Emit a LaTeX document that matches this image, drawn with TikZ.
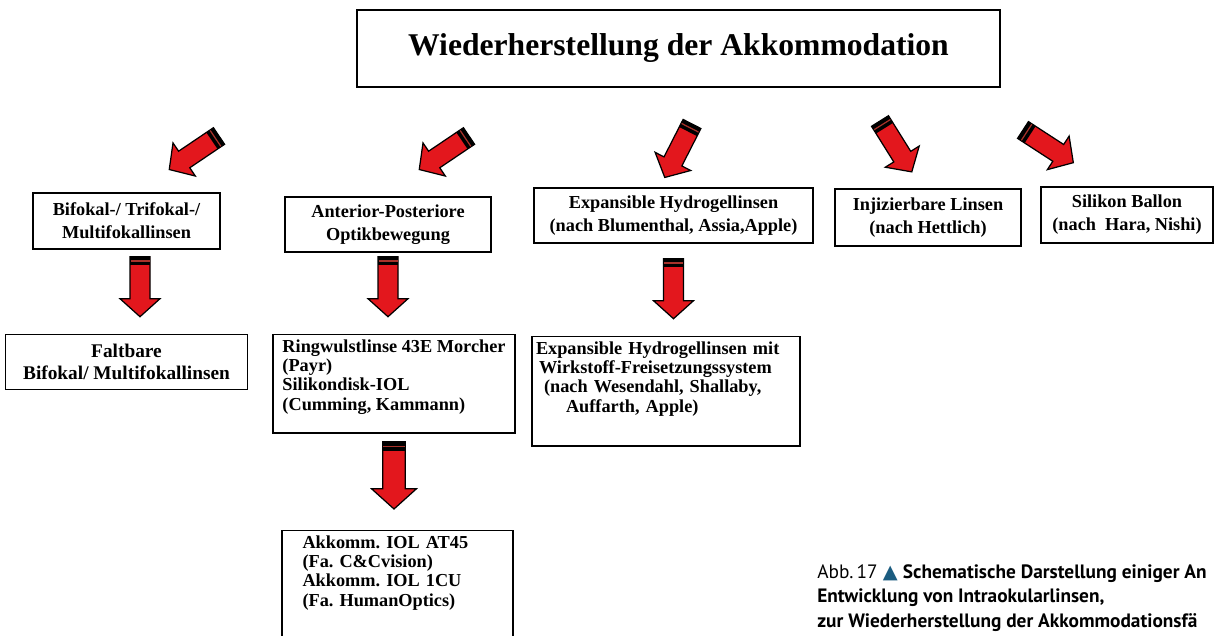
\documentclass[tikz,border=0pt]{standalone}
\usepackage{fontspec}
\setmainfont{Liberation Serif}
\newfontfamily\capfont{PT Sans}
\newfontfamily\symfont{DejaVu Sans}
\usetikzlibrary{positioning, calc}
\definecolor{arrowred}{HTML}{E3171D}
\definecolor{bandred}{HTML}{A8322B}
\definecolor{capblue}{HTML}{1B5C80}
\frenchspacing

\begin{document}
\begin{tikzpicture}[
    % Styles
    entry/.style={draw=black, line width=0.8pt, align=center, inner sep=2pt, font=\fontsize{10.4}{13}\selectfont\bfseries},
    lowentry/.style={entry, inner ysep=0.1cm, font=\fontsize{10.4}{11}\selectfont\bfseries},
    caption/.style={font=\capfont\fontsize{11}{14}\selectfont, align=left, inner sep=0pt, anchor=north west},
    redarrow/.pic={
        \filldraw[fill=arrowred, draw=black, line width=0.7pt]
            (0,-0.2) -- (0.84,-0.2) -- (0.84,-0.4) -- (1.2,0) -- (0.84,0.4) -- (0.84,0.2) -- (0,0.2) -- cycle;
        \fill[black] (0,-0.2) rectangle (0.17,0.2);
        \draw[bandred, line width=0.7pt] (0.085,-0.19) -- (0.085,0.19);
    },
]

% Page frame
\path[use as bounding box, clip] (0,0) rectangle (24.28,-12.7);

% Title
\node[entry, minimum width=12.86cm, minimum height=1.54cm, font=\fontsize{18}{20}\selectfont\bfseries] (title) at (13.57,-0.97) {Wiederherstellung der Akkommodation};

% First row of approaches
\node[entry, minimum width=3.74cm, minimum height=1.12cm] (bifokal) at (2.53,-4.42) {Bifokal-/ Trifokal-/\\Multifokallinsen};
\node[entry, minimum width=4.12cm, minimum height=1.10cm] (anterior) at (7.76,-4.49) {Anterior-Posteriore\\Optikbewegung};
\node[entry, minimum width=5.58cm, minimum height=1.10cm] (hydrogel) at (13.47,-4.31) {Expansible Hydrogellinsen\\(nach Blumenthal, Assia,Apple)};
\node[entry, minimum width=3.72cm, minimum height=1.14cm] (injizierbar) at (18.56,-4.35) {Injizierbare Linsen\\(nach Hettlich)};
\node[entry, minimum width=3.44cm, minimum height=1.12cm] (ballon) at (22.54,-4.30) {Silikon Ballon\\(nach~ Hara, Nishi)};

% Arrows from the title
\coordinate (a1) at (4.38,-2.72);
\coordinate (a2) at (9.38,-2.72);
\coordinate (a3) at (13.84,-2.48);
\coordinate (a4) at (17.60,-2.42);
\coordinate (a5) at (20.46,-2.60);
\pic[rotate=214] at (a1) {redarrow};
\pic[rotate=214] at (a2) {redarrow};
\pic[rotate=243] at (a3) {redarrow};
\pic[rotate=-58] at (a4) {redarrow};
\pic[rotate=-33] at (a5) {redarrow};

% Second row
\node[lowentry, minimum width=4.84cm, minimum height=1.1cm, font=\fontsize{11}{12}\selectfont\bfseries, below=1.68cm of bifokal] (faltbar) {Faltbare\\Bifokal/ Multifokallinsen};
\pic[rotate=-90] at ($(bifokal.south)+(0.27,-0.14)$) {redarrow};

\node[lowentry, minimum width=4.84cm, align=left, below=1.62cm of anterior, xshift=0.12cm] (ringwulst) {Ringwulstlinse 43E Morcher\\(Payr)\\Silikondisk-IOL\\(Cumming, Kammann)\rule[-0.36cm]{0pt}{0.36cm}};
\pic[rotate=-90] at ($(anterior.south)+(0,-0.08)$) {redarrow};

\node[lowentry, minimum width=5.36cm, text width=5.2cm, align=left, below=1.84cm of hydrogel, xshift=-0.15cm] (wirkstoff) {Expansible Hydrogellinsen mit\\\hspace*{0.06cm}Wirkstoff-Freisetzungssystem\\\hspace*{0.16cm}(nach Wesendahl, Shallaby,\\\hspace*{0.6cm}Auffarth, Apple)\rule[-0.58cm]{0pt}{0.58cm}};
\pic[rotate=-90] at ($(hydrogel.south)+(0,-0.3)$) {redarrow};

% Third row
\node[lowentry, minimum width=4.62cm, text width=3.8cm, align=left, below=1.92cm of ringwulst, xshift=0.07cm] (akkomm) {Akkomm. IOL AT45\\(Fa. C\&Cvision)\\Akkomm. IOL 1CU\\(Fa. HumanOptics)\rule[-1.6cm]{0pt}{1.6cm}};
\pic[rotate=-90, scale=1.12] at ($(ringwulst.south)+(0,-0.16)$) {redarrow};

% Caption
\node[caption] (caption) at (16.34,-11.28) {Abb.\,17 {\color{capblue}\symfont ▲} \textbf{Schematische Darstellung einiger An}\\\textbf{Entwicklung von Intraokularlinsen,}\\\textbf{zur Wiederherstellung der Akkommodationsfä}};

\end{tikzpicture}
\end{document}
